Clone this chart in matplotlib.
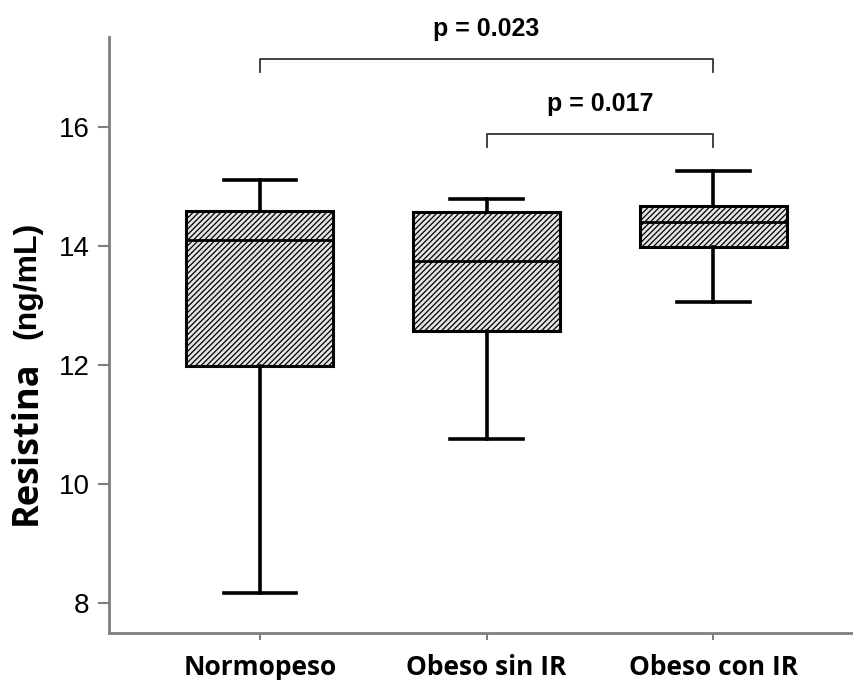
import matplotlib

matplotlib.use("Agg")
import matplotlib.pyplot as plt

# Resistin (ng/mL) by group: box summary statistics
groups = ["Normopeso", "Obeso sin IR", "Obeso con IR"]
whisker_low = [8.17, 10.76, 13.06]
q1 = [11.98, 12.57, 13.97]
median = [14.10, 13.75, 14.40]
q3 = [14.59, 14.57, 14.67]
whisker_high = [15.10, 14.78, 15.26]

# pairwise comparisons: (group a, group b, bracket height, label)
comparisons = [
    (1, 3, 17.13, "p = 0.023"),
    (2, 3, 15.87, "p = 0.017"),
]

plt.rcParams["hatch.linewidth"] = 0.9
AX_GRAY = "#7f7f7f"

fig = plt.figure(figsize=(8.54, 6.8), dpi=100)
ax = fig.add_axes([0.1276, 0.069, 0.8724, 0.8764])

stats = [
    dict(whislo=lo, q1=a, med=m, q3=b, whishi=hi, label=g)
    for g, lo, a, m, b, hi in zip(groups, whisker_low, q1, median, q3, whisker_high)
]
bp = ax.bxp(
    stats,
    positions=[1, 2, 3],
    widths=0.65,
    showfliers=False,
    patch_artist=True,
    boxprops=dict(linewidth=2.2, edgecolor="black"),
    medianprops=dict(color="black", linewidth=2.0),
    whiskerprops=dict(color="black", linewidth=2.6),
    capprops=dict(color="black", linewidth=2.6),
    capwidths=0.32,
)
for box in bp["boxes"]:
    box.set_facecolor("#e4e4e4")
    box.set_hatch("//////")

# significance brackets
drop = 0.22
for a, b, y, txt in comparisons:
    ax.plot([a, a, b, b], [y - drop, y, y, y - drop], color="#333333", lw=1.3,
            clip_on=False)
    ax.text((a + b) / 2, y + 0.3, txt, ha="center", va="bottom",
            fontsize=18, fontweight="bold", family="Liberation Sans", clip_on=False)

ax.set_xlim(0.335, 3.62)
ax.set_ylim(7.5, 17.5)
ax.set_yticks([8, 10, 12, 14, 16])
ax.set_xticks([1, 2, 3])
ax.set_xticklabels(groups, fontsize=19, fontweight="bold", family="Open Sans")
for lab in ax.get_yticklabels():
    lab.set_family("Liberation Sans")
    lab.set_fontsize(20)

for side in ("top", "right"):
    ax.spines[side].set_visible(False)
for side in ("left", "bottom"):
    ax.spines[side].set_color(AX_GRAY)
    ax.spines[side].set_linewidth(2)
ax.tick_params(axis="y", length=8, width=1.5, color=AX_GRAY, pad=6)
ax.tick_params(axis="x", length=5, width=1.5, color=AX_GRAY, pad=10)

# two-part y label, each piece its own size
fig.text(27 / 854, 1 - 443 / 680, "Resistina", rotation=90, ha="center", va="center",
         fontsize=26, fontweight="bold", family="Open Sans")
fig.text(27 / 854, 1 - 280 / 680, "(ng/mL)", rotation=90, ha="center", va="center",
         fontsize=23, fontweight="bold", family="Liberation Sans")

fig.savefig("out.png", dpi=100)
